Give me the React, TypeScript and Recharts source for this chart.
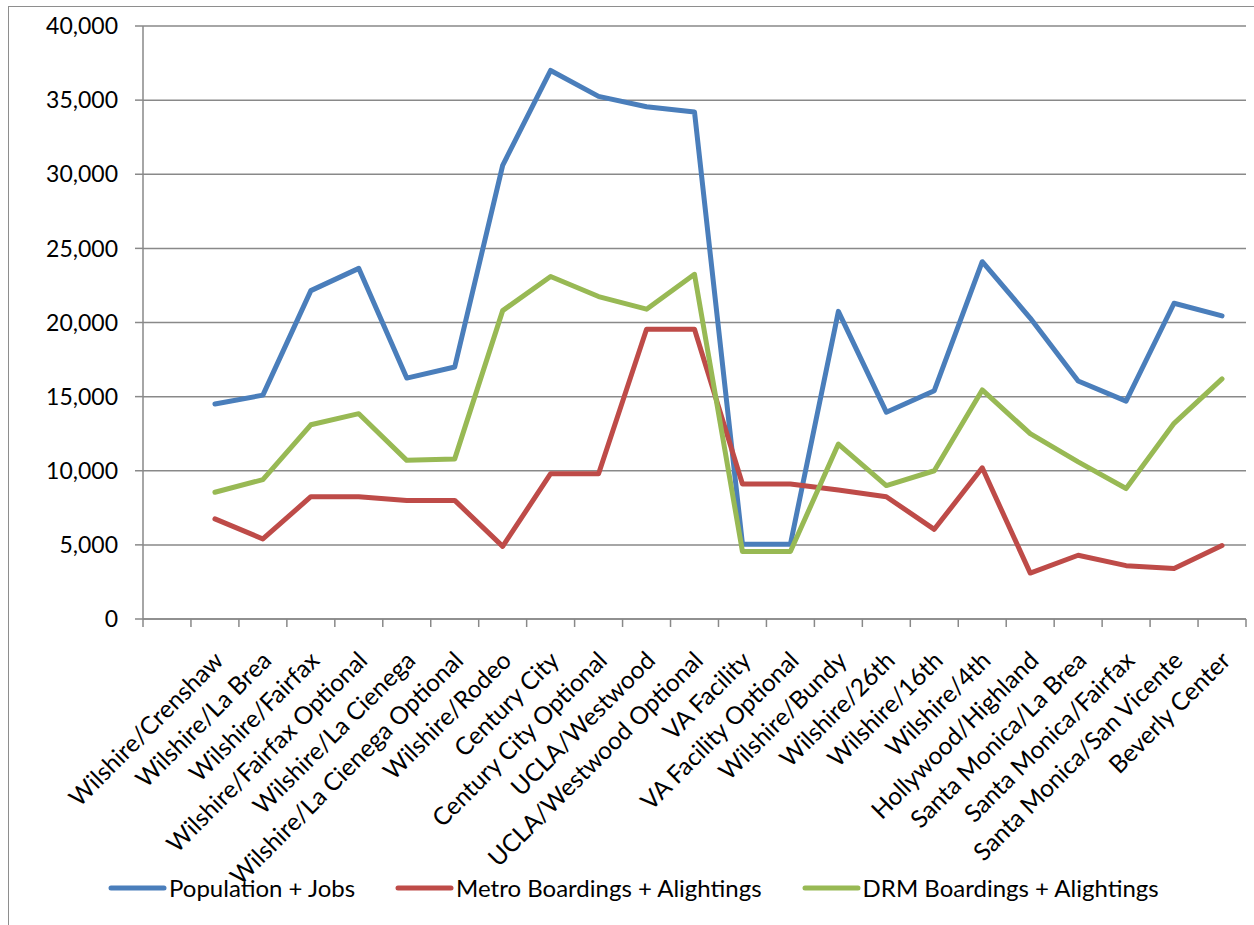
import React from 'react';
import { LineChart, Line, XAxis, YAxis, CartesianGrid, Legend } from 'recharts';

// Station areas along the corridor, in route order
const STOPS = [
  'Wilshire/Crenshaw',
  'Wilshire/La Brea',
  'Wilshire/Fairfax',
  'Wilshire/Fairfax Optional',
  'Wilshire/La Cienega',
  'Wilshire/La Cienega Optional',
  'Wilshire/Rodeo',
  'Century City',
  'Century City Optional',
  'UCLA/Westwood',
  'UCLA/Westwood Optional',
  'VA Facility',
  'VA Facility Optional',
  'Wilshire/Bundy',
  'Wilshire/26th',
  'Wilshire/16th',
  'Wilshire/4th',
  'Hollywood/Highland',
  'Santa Monica/La Brea',
  'Santa Monica/Fairfax',
  'Santa Monica/San Vicente',
  'Beverly Center',
];

const POP_JOBS = [
  14500, 15100, 22150, 23650, 16250, 17000, 30600, 37000, 35250, 34550, 34200,
  5050, 5050, 20750, 13950, 15400, 24100, 20300, 16050, 14700, 21300, 20450,
];

const METRO = [
  6750, 5400, 8250, 8250, 8000, 8000, 4900, 9800, 9800, 19550, 19550,
  9100, 9100, 8700, 8250, 6050, 10200, 3100, 4300, 3600, 3400, 4950,
];

const DRM = [
  8550, 9400, 13100, 13850, 10700, 10800, 20800, 23100, 21750, 20900, 23250,
  4550, 4550, 11800, 9000, 10000, 15450, 12500, 10600, 8800, 13200, 16200,
];

const Y_TICKS = [0, 5000, 10000, 15000, 20000, 25000, 30000, 35000, 40000];

const SERIES = [
  { key: 'pop', name: 'Population + Jobs', color: '#4A7EBB' },
  { key: 'metro', name: 'Metro Boardings + Alightings', color: '#BE4B48' },
  { key: 'drm', name: 'DRM Boardings + Alightings', color: '#98B954' },
];

// The category axis keeps one blank slot ahead of the first station
const rows = [
  { stop: '', pop: null, metro: null, drm: null },
  ...STOPS.map((stop, i) => ({
    stop,
    pop: POP_JOBS[i],
    metro: METRO[i],
    drm: DRM[i],
  })),
];

const FONT = 'Lato, "Open Sans", sans-serif';
const AXIS_GRAY = '#898989';

const fmt = (v: number) => v.toLocaleString('en-US');

function StopTick(props: any) {
  const { x, y, payload, index } = props;
  const half = payload && payload.offset ? payload.offset : 24;
  const isLast = index === rows.length - 1;
  const ax = x + 4;
  const ay = y + 29;
  return (
    <g>
      <line x1={x - half} x2={x - half} y1={y - 8} y2={y} stroke={AXIS_GRAY} strokeWidth={1.5} />
      {isLast && (
        <line x1={x + half} x2={x + half} y1={y - 8} y2={y} stroke={AXIS_GRAY} strokeWidth={1.5} />
      )}
      {payload.value ? (
        <text
          x={ax}
          y={ay}
          dy="0.35em"
          textAnchor="end"
          transform={`rotate(-45 ${ax} ${ay})`}
          fontFamily={FONT}
          fontSize={24.5}
          fill="#000"
        >
          {payload.value}
        </text>
      ) : null}
    </g>
  );
}

function LegendRow() {
  return (
    <div
      style={{
        display: 'flex',
        alignItems: 'center',
        paddingLeft: 108,
        gap: 40,
        fontFamily: FONT,
        fontSize: 24,
        color: '#000',
        whiteSpace: 'nowrap',
      }}
    >
      {SERIES.map((s) => (
        <div key={s.key} style={{ display: 'flex', alignItems: 'center' }}>
          <svg width={59} height={10} style={{ marginRight: 2 }}>
            <line x1={3} x2={56} y1={5} y2={5} stroke={s.color} strokeWidth={5} strokeLinecap="round" />
          </svg>
          <span>{s.name}</span>
        </div>
      ))}
    </div>
  );
}

export default function App() {
  return (
    <div
      style={{
        position: 'absolute',
        left: 0,
        top: 0,
        width: 1254,
        height: 925,
        background: '#fff',
        overflow: 'hidden',
      }}
    >
      <div
        style={{
          position: 'absolute',
          left: 8,
          top: 6,
          width: 1400,
          height: 1100,
          border: '1.5px solid #8e8e8e',
        }}
      />
      <div style={{ position: 'absolute', left: 0, top: 0 }}>
        <LineChart
          width={1254}
          height={925}
          data={rows}
          margin={{ top: 26, right: 8, bottom: 0, left: 0 }}
        >
          <CartesianGrid vertical={false} stroke={AXIS_GRAY} strokeWidth={1.5} />
          <XAxis
            dataKey="stop"
            type="category"
            scale="band"
            interval={0}
            height={306}
            tickSize={8}
            tickMargin={0}
            tickLine={false}
            axisLine={{ stroke: AXIS_GRAY, strokeWidth: 1.5 }}
            tick={<StopTick />}
          />
          <YAxis
            width={143}
            domain={[0, 40000]}
            ticks={Y_TICKS}
            interval={0}
            tickFormatter={fmt}
            tickSize={8}
            tickMargin={17}
            axisLine={{ stroke: AXIS_GRAY, strokeWidth: 1.5 }}
            tickLine={{ stroke: AXIS_GRAY, strokeWidth: 1.5 }}
            tick={{ fill: '#000', fontFamily: FONT, fontSize: 23 }}
          />
          {SERIES.map((s) => (
            <Line
              key={s.key}
              dataKey={s.key}
              name={s.name}
              stroke={s.color}
              strokeWidth={5}
              strokeLinecap="round"
              strokeLinejoin="round"
              dot={false}
              activeDot={false}
              type="linear"
              isAnimationActive={false}
            />
          ))}
          <Legend
            layout="horizontal"
            verticalAlign="middle"
            align="center"
            content={<LegendRow />}
            wrapperStyle={{ position: 'absolute', left: 0, top: 873, width: 1254 }}
          />
        </LineChart>
      </div>
    </div>
  );
}
